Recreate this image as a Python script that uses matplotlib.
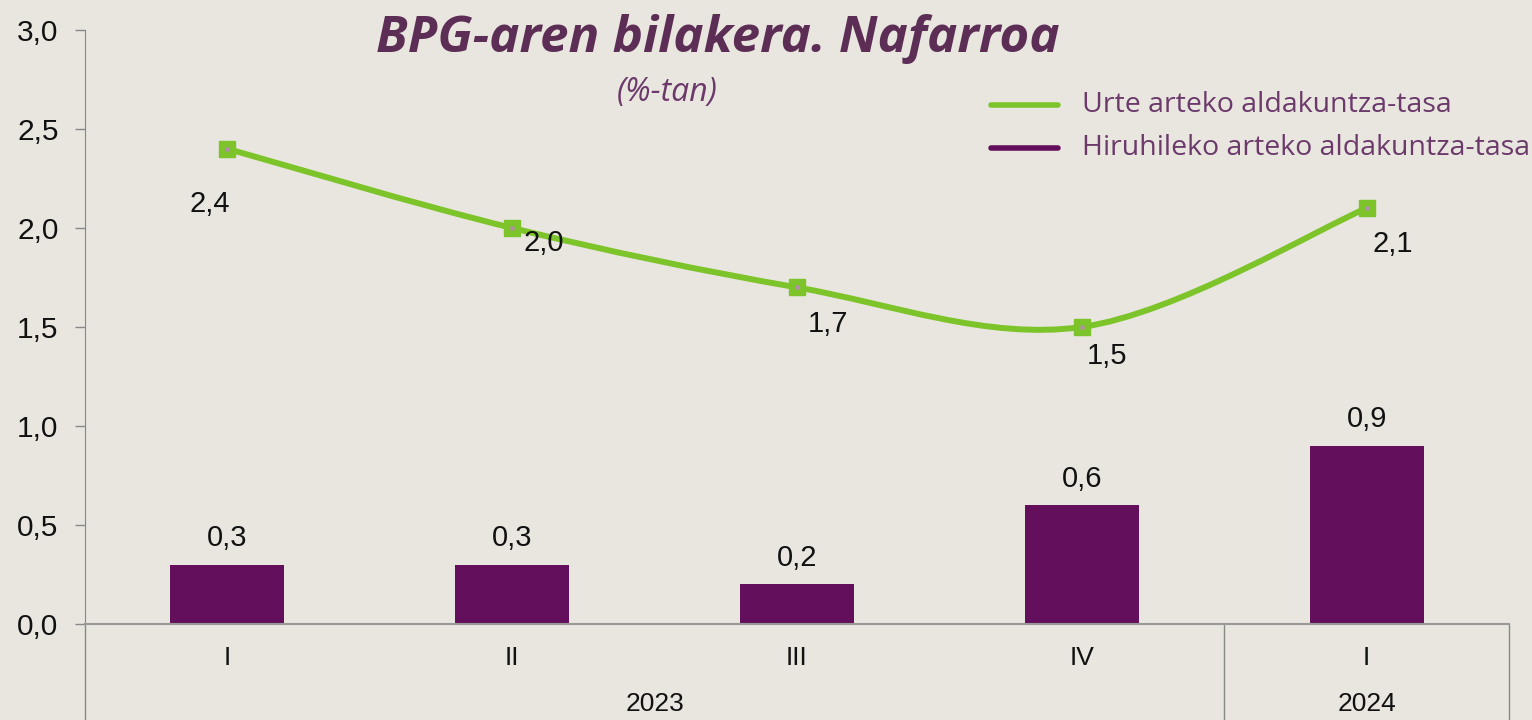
import numpy as np
import matplotlib
matplotlib.use("Agg")
from matplotlib import pyplot as plt
from matplotlib.path import Path
from matplotlib.patches import PathPatch

# datuak
quarters = ["I", "II", "III", "IV", "I"]
years = ["2023", "2024"]
year_span = [(0, 3), (4, 4)]
urte_arteko = [2.4, 2.0, 1.7, 1.5, 2.1]
hiruhileko = [0.3, 0.3, 0.2, 0.6, 0.9]

# label offsets for the line values (points)
line_lbl_off = [(-13, -40), (23, -11), (22, -26), (18, -21), (19, -26)]

bg = "#E9E6E0"
green = "#7DC42A"
purple = "#640F5C"
title_col = "#5C2D55"
legend_col = "#6B3A6B"


def fmt(v):
    return ("%.1f" % v).replace(".", ",")


def smooth_path(xs, ys):
    # excel-like smoothed line (cubic bezier, tension 1/6)
    pts = np.column_stack([xs, ys])
    n = len(pts)
    verts = [pts[0]]
    codes = [Path.MOVETO]
    for i in range(n - 1):
        p0 = pts[i - 1] if i > 0 else pts[i]
        p1 = pts[i]
        p2 = pts[i + 1]
        p3 = pts[i + 2] if i + 2 < n else pts[i + 1]
        c1 = p1 + (p2 - p0) / 6.0
        c2 = p2 - (p3 - p1) / 6.0
        verts += [c1, c2, p2]
        codes += [Path.CURVE4] * 3
    return Path(verts, codes)


fig = plt.figure(figsize=(15.32, 7.2), dpi=100, facecolor=bg)
ax = fig.add_axes([85 / 1532, 96 / 720, (1509 - 85) / 1532, 594 / 720])
ax.set_facecolor(bg)

x = np.arange(len(quarters))

# barrak
bars = ax.bar(x, hiruhileko, width=0.4, color=purple, zorder=2)
for xi, v in zip(x, hiruhileko):
    ax.annotate(fmt(v), (xi, v), xytext=(0, 19), textcoords="offset points",
                ha="center", va="center", fontsize=21, family="Liberation Sans",
                color="#111111", zorder=5)

# lerroa
path = smooth_path(x.astype(float), np.array(urte_arteko))
ax.add_patch(PathPatch(path, facecolor="none", edgecolor=green, lw=4.3,
                       capstyle="round", zorder=3))
ax.plot(x, urte_arteko, ls="none", marker="s", ms=11.5, color=green,
        mec=green, zorder=4)
ax.plot(x, urte_arteko, ls="none", marker="s", ms=3, color="#B48AB0",
        mec="none", zorder=4)
for xi, v, off in zip(x, urte_arteko, line_lbl_off):
    ax.annotate(fmt(v), (xi, v), xytext=off, textcoords="offset points",
                ha="center", va="center", fontsize=21, family="Liberation Sans",
                color="#111111", zorder=5)

ax.set_xlim(-0.5, len(quarters) - 0.5)
ax.set_ylim(0, 3.0)
ax.set_yticks(np.arange(0, 3.01, 0.5))
ax.set_yticklabels([fmt(t) for t in np.arange(0, 3.01, 0.5)],
                   fontsize=21.5, family="Liberation Sans", color="#111111")
ax.tick_params(axis="y", direction="out", length=7, width=1, color="#888888", pad=12)
ax.set_xticks([])

for s in ["top", "right"]:
    ax.spines[s].set_visible(False)
ax.spines["left"].set_color("#888888")
ax.spines["bottom"].set_color("#999999")
ax.spines["bottom"].set_linewidth(1.5)

# x ardatzeko etiketak
xt = ax.get_xaxis_transform()
for xi, q in zip(x, quarters):
    ax.annotate(q, (xi, 0), xycoords=xt, xytext=(0, -24.5), textcoords="offset points",
                ha="center", va="center", fontsize=19, family="Liberation Sans",
                color="#111111", annotation_clip=False)
for yr, (a, b) in zip(years, year_span):
    ax.annotate(yr, ((a + b) / 2, 0), xycoords=xt, xytext=(0, -57.5),
                textcoords="offset points", ha="center", va="center", fontsize=19,
                family="Liberation Sans", color="#111111", annotation_clip=False)
for xv in [-0.5, 3.5, 4.5]:
    ax.plot([xv, xv], [0, -0.2], transform=xt, color="#888888", lw=1, clip_on=False)

# izenburua
fig.text(718 / 1532, 1 - 52 / 720, "BPG-aren bilakera. Nafarroa", ha="center",
         va="baseline", fontsize=36.8, fontweight="bold", style="italic",
         family="Open Sans", color=title_col)
fig.text(667 / 1532, 1 - 92 / 720, "(%-tan)", ha="center", va="center",
         fontsize=23, style="italic", family="Open Sans", color=legend_col)

# legenda
leg_items = [("Urte arteko aldakuntza-tasa", green, 105),
             ("Hiruhileko arteko aldakuntza-tasa", purple, 148)]
for lbl, c, yp in leg_items:
    yy = 1 - yp / 720
    fig.add_artist(plt.Line2D([991 / 1532, 1058 / 1532], [yy, yy], color=c, lw=4,
                              solid_capstyle="round"))
    fig.text(1082 / 1532, yy, lbl, ha="left", va="center", fontsize=20.5,
             family="Open Sans", color=legend_col)

fig.savefig("out.png", dpi=100, facecolor=bg)
